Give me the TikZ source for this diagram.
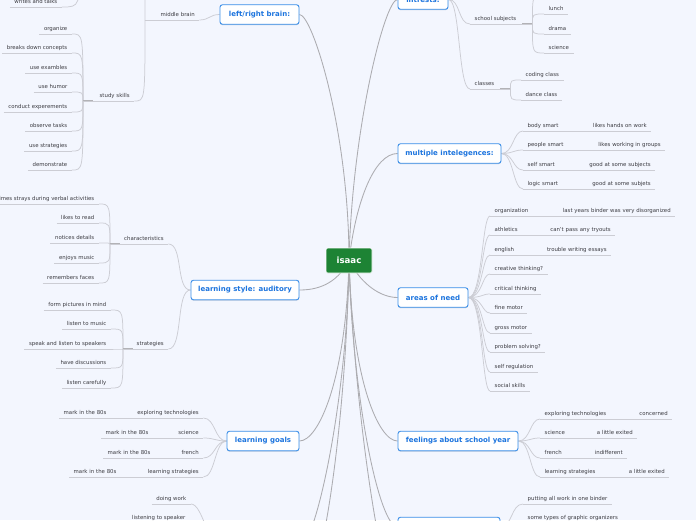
\documentclass[tikz,border=0pt]{standalone}
\usepackage{fontspec}
\setmainfont{DejaVu Sans}
\usetikzlibrary{shadows}
\pgfdeclarelayer{back}
\pgfdeclarelayer{links}
\pgfsetlayers{back,links,main}
\definecolor{bg}{RGB}{243,246,254}
\definecolor{tblue}{RGB}{28,116,222}
\definecolor{tborder}{RGB}{58,142,232}
\definecolor{rootgreen}{RGB}{29,131,52}
\definecolor{leafgray}{RGB}{60,60,66}
\definecolor{mline}{RGB}{172,172,176}
\definecolor{sline}{RGB}{204,205,212}
\definecolor{stubgray}{RGB}{178,178,182}
\tikzset{
  topic/.style={draw=tborder, line width=0.9pt, fill=white, rounded corners=2.5pt,
    text=tblue, font=\fontsize{7}{8}\selectfont\bfseries, inner sep=0pt,
    minimum height=19.5pt, drop shadow={shadow xshift=0pt, shadow yshift=-0.9pt, opacity=0.3, fill=tborder!60!black}},
  rootbox/.style={fill=rootgreen, draw=white, line width=0.6pt, rounded corners=1.5pt, text=white,
    font=\fontsize{8.6}{10}\selectfont\bfseries, minimum width=46pt, minimum height=25pt, inner sep=0pt},
  uline/.style={draw=sline, line width=0.75pt},
  leaf/.style={font=\fontsize{5.4}{6.5}\selectfont, text=leafgray, inner xsep=4.5pt, inner ysep=2.2pt,
    text height=4pt, text depth=1.3pt,
    append after command={(\tikzlastnode.south west) edge[uline] (\tikzlastnode.south east)}},
  mainlink/.style={draw=mline, line width=0.85pt},
  sublink/.style={draw=sline, line width=0.75pt},
  stub/.style={draw=stubgray, line width=1.3pt},
}
\newcommand\Rleaf[4]{\node[leaf, anchor=south west] (#1) at (#2,#3) {#4};}
\newcommand\Lleaf[4]{\node[leaf, anchor=south east] (#1) at (#2,#3) {#4};}
\newcommand\Wleaf[6]{\pgfmathsetmacro\lfw{#3-#2-9}\node[leaf, anchor=south west, text width=\lfw pt, align=#5] (#1) at (#2,#4) {#6};}
\newcommand\trk[2]{\draw[sublink] (#1) .. controls (#2 |- #1) and (#2 |- #1) .. (#2);}
\begin{document}
\begin{tikzpicture}[x=1pt,y=-1pt]
\useasboundingbox (0,0) rectangle (696,520);
\begin{pgfonlayer}{back}
\fill[bg] (0,0) rectangle (696,520);
\end{pgfonlayer}
\clip (0,0) rectangle (696,520);

% ---------- root and topics
\node[rootbox] (root) at (349,260.5) {isaac};
\node[topic, minimum width=79pt] (lr) at (259.5,14.5) {left/right brain:};
\node[topic, minimum width=50pt] (it) at (423,-0.5) {intrests:};
\node[topic, minimum width=103pt] (mi) at (449.5,153.5) {multiple intelegences:};
\node[topic, minimum width=108pt] (ls) at (245,290) {learning style: auditory};
\node[topic, minimum width=70pt] (an) at (433,297.5) {areas of need};
\node[topic, minimum width=72pt] (lg) at (263,441) {learning goals};
\node[topic, minimum width=120pt] (fs) at (458,441) {feelings about school year};
\node[topic, minimum width=102pt] (br) at (449,527) {};

\coordinate (mbup) at (125,-45);
\coordinate (wtup) at (80,-45);
\coordinate (i0) at (544,-5.5);
\coordinate (bleft) at (222,548);
\coordinate (bright) at (299,548);
\coordinate (dl2) at (299,600);
\coordinate (dr2) at (398,600);

% ---------- left/right brain
\Lleaf{wt}{62}{7}{writes and talks}
\Wleaf{mb}{145}{199}{20}{right}{middle brain}
\Wleaf{ss}{83}{134}{101}{right}{study skills}
\Lleaf{s1}{72}{34}{organize}
\Lleaf{s2}{72}{53}{breaks down concepts}
\Lleaf{s3}{72}{73}{use exambles}
\Lleaf{s4}{72}{92}{use humor}
\Lleaf{s5}{72}{112}{conduct experements}
\Lleaf{s6}{72}{131}{observe tasks}
\Lleaf{s7}{72}{151}{use strategies}
\Lleaf{s8}{72}{170}{demonstrate}

% ---------- learning style
\Wleaf{ch}{110}{168}{244}{right}{characteristics}
\Wleaf{st}{123}{168}{349}{right}{strategies}
\Lleaf{c1}{99}{204}{sometimes strays during verbal activities}
\Lleaf{c2}{99}{223}{likes to read}
\Lleaf{c3}{99}{243}{notices details}
\Lleaf{c4}{99}{263}{enjoys music}
\Lleaf{c5}{99}{283}{remembers faces}
\Lleaf{t1}{111}{310}{form pictures in mind}
\Lleaf{t2}{111}{329}{listen to music}
\Lleaf{t3}{111}{349}{speak and listen to speakers}
\Lleaf{t4}{111}{368}{have discussions}
\Lleaf{t5}{111}{388}{listen carefully}

% ---------- learning goals
\Wleaf{g1}{125}{203}{418}{right}{exploring technologies}
\Wleaf{g1a}{59}{125}{418}{left}{mark in the 80s}
\Wleaf{g2}{160}{203}{438}{right}{science}
\Wleaf{g2a}{101}{160}{438}{left}{mark in the 80s}
\Wleaf{g3}{160}{203}{458}{right}{french}
\Wleaf{g3a}{103}{160}{458}{left}{mark in the 80s}
\Wleaf{g4}{125}{203}{477}{right}{learning strategies}
\Wleaf{g4a}{69}{125}{477}{left}{mark in the 80s}

% ---------- bottom left
\Lleaf{b1}{191}{504}{doing work}
\Lleaf{b2}{190}{523}{listening to speaker}

% ---------- intrests
\Wleaf{sc}{470}{532}{24}{left}{school subjects}
\Wleaf{cl}{470}{510}{89}{left}{classes}
\Rleaf{i1}{544}{14}{lunch}
\Rleaf{i2}{544}{34}{drama}
\Rleaf{i3}{544}{53}{science}
\Rleaf{k1}{521}{80}{coding class}
\Rleaf{k2}{521}{100}{dance class}

% ---------- multiple intelegences
\Wleaf{m1}{523}{575}{131}{left}{body smart}
\Wleaf{m1a}{575}{651}{131}{right}{likes hands on work}
\Wleaf{m2}{523}{580}{150}{left}{people smart}
\Wleaf{m2a}{580}{665}{150}{right}{likes working in groups}
\Wleaf{m3}{523}{572}{170}{left}{self smart}
\Wleaf{m3a}{572}{655}{170}{right}{good at some subjects}
\Wleaf{m4}{523}{575}{189}{left}{logic smart}
\Wleaf{m4a}{575}{655}{189}{right}{good at some subjets}

% ---------- areas of need
\Wleaf{a1}{490}{545}{216}{left}{organization}
\Wleaf{a1a}{545}{675}{216}{right}{last years binder was very disorganized}
\Wleaf{a2}{490}{535}{235}{left}{athletics}
\Wleaf{a2a}{535}{615}{235}{right}{can't pass any tryouts}
\Wleaf{a3}{490}{530}{255}{left}{english}
\Wleaf{a3a}{530}{611}{255}{right}{trouble writing essays}
\Rleaf{a4}{490}{274}{creative thinking?}
\Rleaf{a5}{490}{294}{critical thinking}
\Rleaf{a6}{490}{313}{fine motor}
\Rleaf{a7}{490}{333}{gross motor}
\Rleaf{a8}{490}{352}{problem solving?}
\Rleaf{a9}{490}{372}{self regulation}
\Rleaf{a10}{490}{391}{social skills}

% ---------- feelings
\Wleaf{f1}{540}{620}{419}{left}{exploring technologies}
\Wleaf{f1a}{620}{672}{419}{right}{concerned}
\Wleaf{f2}{540}{580}{438}{left}{science}
\Wleaf{f2a}{580}{637}{438}{right}{a little exited}
\Wleaf{f3}{540}{575}{458}{left}{french}
\Wleaf{f3a}{575}{627}{458}{right}{indifferent}
\Wleaf{f4}{540}{610}{477}{left}{learning strategies}
\Wleaf{f4a}{610}{669}{477}{right}{a little exited}

% ---------- bottom right
\Rleaf{p1}{523}{504}{putting all work in one binder}
\Rleaf{p2}{523}{523}{some types of graphic organizers}

% ================= connectors
\begin{pgfonlayer}{links}
\clip (0,0) rectangle (696,520);
\draw[mainlink] (root.center) .. controls +(0,-130) and +(13,0) .. (lr.east);
\draw[mainlink] (root.center) .. controls +(3,-130) and +(-13,0) .. (it.west);
\draw[mainlink] (root.center) .. controls +(7,-60) and +(-23,0) .. (mi.west);
\draw[mainlink] (root.center) .. controls +(-13,25) and +(16,0) .. (ls.east);
\draw[mainlink] (root.center) .. controls +(13,25) and +(-16,0) .. (an.west);
\draw[mainlink] (root.center) .. controls +(-3,120) and +(19,0) .. (lg.east);
\draw[mainlink] (root.center) .. controls +(3,120) and +(-19,0) .. (fs.west);
\draw[mainlink] (root.center) .. controls +(3.5,140) and +(-18,0) .. (br.west);
\draw[mainlink] (root.center) .. controls +(-1.5,140) and +(16,0) .. (bright);
\draw[mainlink] (root.center) .. controls +(-3,170) and +(21,0) .. (dl2);
\draw[mainlink] (root.center) .. controls +(6.5,170) and +(-13,0) .. (dr2);

% left/right brain
\draw[sublink] (lr.west) .. controls +(-10,0) and +(10,0) .. (mb.south east);
\trk{ss.south east}{mb.south west}
\trk{mbup}{mb.south west}
\trk{wt.south east}{wtup}
\foreach \n in {s1,s2,s3,s4,s5,s6,s7,s8} {\trk{\n.south east}{ss.south west}}
\draw[stub] (ss.south west) -- ++(10,0);

% learning style
\draw[sublink] (ls.west) .. controls +(-15,0) and +(15,0) .. (ch.south east);
\draw[sublink] (ls.west) .. controls +(-15,0) and +(15,0) .. (st.south east);
\foreach \n in {c1,c2,c3,c4,c5} {\trk{\n.south east}{ch.south west}}
\foreach \n in {t1,t2,t3,t4,t5} {\trk{\n.south east}{st.south west}}
\draw[stub] (ch.south west) -- ++(10,0);
\draw[stub] (st.south west) -- ++(10,0);

% learning goals
\foreach \n in {g1,g2,g3,g4} {\draw[sublink] (lg.west) .. controls +(-12,0) and +(12,0) .. (\n.south east);}

% bottom left
\foreach \n in {b1,b2} {\draw[sublink] (bleft) .. controls +(-14,0) and +(12,0) .. (\n.south east);}

% intrests
\draw[sublink] (it.east) .. controls +(12,0) and +(-12,0) .. (sc.south west);
\draw[sublink] (it.east) .. controls +(12,0) and +(-12,0) .. (cl.south west);
\foreach \n in {i1,i2,i3} {\trk{\n.south west}{sc.south east}}
\trk{i0}{sc.south east}
\foreach \n in {k1,k2} {\trk{\n.south west}{cl.south east}}
\draw[stub] (sc.south east) -- ++(-10,0);
\draw[stub] (cl.south east) -- ++(-10,0);

% multiple intelegences
\foreach \n in {m1,m2,m3,m4} {\draw[sublink] (mi.east) .. controls +(12,0) and +(-10,0) .. (\n.south west);}

% areas of need
\foreach \n in {a1,a2,a3,a4,a5,a6,a7,a8,a9,a10} {\draw[sublink] (an.east) .. controls +(14,0) and +(-8,0) .. (\n.south west);}

% feelings
\foreach \n in {f1,f2,f3,f4} {\draw[sublink] (fs.east) .. controls +(12,0) and +(-10,0) .. (\n.south west);}

% bottom right
\foreach \n in {p1,p2} {\draw[sublink] (br.east) .. controls +(12,0) and +(-12,0) .. (\n.south west);}
\end{pgfonlayer}
\end{tikzpicture}
\end{document}
